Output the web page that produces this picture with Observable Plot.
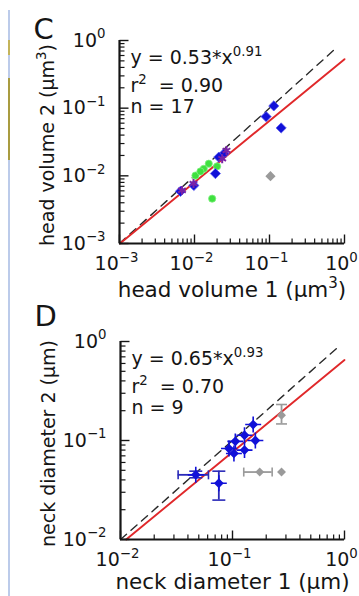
<!DOCTYPE html>
<html><head><meta charset="utf-8">
<script src="https://cdn.jsdelivr.net/npm/d3@7"></script>
<script src="https://cdn.jsdelivr.net/npm/@observablehq/plot@0.6"></script>
<style>
body{margin:0;background:#fff;}
#page{position:relative;width:359px;height:596px;overflow:hidden;background:#fff;}
#charts svg{display:block;background:transparent;}
.edge{position:absolute;left:8px;width:2px;z-index:2;}
</style></head><body>
<div id="page">
<div id="charts"></div>
<div class="edge" style="top:10px;height:586px;background:#bccbea"></div>
<div class="edge" style="top:40px;height:15px;background:#c4b45a"></div>
<div class="edge" style="top:78px;height:82px;background:#a99c40"></div>
</div>
<script>
// ---------- Panel C : head volume ----------
const cBlue   = [[0.114,0.108],[0.090,0.075],[0.143,0.051],[0.019,0.0108],[0.0246,0.0212],[0.0211,0.0189],[0.0098,0.0072],[0.0065,0.0059]];
const cPurple = [[0.0234,0.0179],[0.0097,0.0077],[0.0068,0.0061],[0.0267,0.0237]];
const cGreen  = [[0.0155,0.0151],[0.0133,0.0127],[0.0103,0.0101],[0.0172,0.0046],[0.020,0.0138],[0.012,0.0116]];
const cGray   = [[0.103,0.0099]];
const cFit    = [0.53, 0.91];
const cDash   = [0.001, 0.8];
const cDecades = [0.001, 0.01, 0.1, 1];
const cText   = ["y = 0.53*x^{0.91}", "r^{2}\u00a0 = 0.90", "n = 17"];
const cXTitle = "head volume 1 (\u03bcm^{3})";
const cYTitle = "head volume 2 (\u03bcm^{3})";

// ---------- Panel D : neck diameter ----------
const dBlue   = [[0.153,0.145],[0.128,0.113],[0.160,0.100],[0.106,0.098],[0.093,0.083],[0.103,0.074],[0.128,0.080]];
// [x, y, xlo, xhi, ylo, yhi]
const dBlueBars = [[0.047,0.045,0.0327,0.061,0.042,0.049],[0.0755,0.037,null,null,0.025,0.049]];
const dGrayBars = [[0.274,0.180,null,null,0.147,0.231],[0.175,0.048,0.126,0.226,null,null],[0.274,0.048,null,null,null,null]];
const dFit    = [0.65, 0.93];
const dDash   = [0.01, 0.87];
const dDecades = [0.01, 0.1, 1];
const dText   = ["y = 0.65*x^{0.93}", "r^{2}\u00a0 = 0.70", "n = 9"];
const dXTitle = "neck diameter 1 (\u03bcm)";
const dYTitle = "neck diameter 2 (\u03bcm)";

const minorMult = [2,3,4,5,6,7,8,9];

const BLUE = "#1010d8", BAR_BLUE = "#2a2ab8", PURPLE = "#7a22a6", GREEN = "#3fe03f", GRAY = "#9a9a9a", RED = "#e0282a", INK = "#151515";

const seg = (x, y) => ({draw(c){c.moveTo(0,0); c.lineTo(x,y);}});
const segC = (x, y) => ({draw(c){c.moveTo(-x,-y); c.lineTo(x,y);}});
const fmt = d => { const e = Math.round(Math.log10(d)); return "10^{" + (e < 0 ? "\u2212" + (-e) : e) + "}"; };

function supify(svg){
  const ns = "http://www.w3.org/2000/svg";
  svg.querySelectorAll("text").forEach(t => {
    const s = t.textContent;
    if (!s.includes("^{")) return;
    t.textContent = "";
    const parts = s.split(/\^\{([^}]*)\}/);
    let raised = false;
    parts.forEach((p, i) => {
      if (!p) return;
      const ts = document.createElementNS(ns, "tspan");
      if (i % 2 === 1) {
        ts.setAttribute("style", "font-size:70%");
        ts.setAttribute("dy", "-0.62em");
        raised = true;
      } else if (raised) {
        ts.setAttribute("dy", "0.434em");
        raised = false;
      }
      ts.textContent = p;
      t.appendChild(ts);
    });
  });
}

function panel(o){
  const [a, b] = o.fit;
  const xmin = o.decades[0], xmax = o.decades[o.decades.length-1];
  const x0 = Math.max(xmin, Math.pow(xmin / a, 1 / b));
  const fitLine = [x0, xmax].map(x => [x, a * Math.pow(x, b)]);
  const dashLine = o.dash.map(x => [x, x]);
  const minors = o.decades.slice(0, -1).flatMap(d => minorMult.map(m => m * d));
  const X = d => d[0], Y = d => d[1];
  const marks = [
    Plot.line(dashLine, {x: X, y: Y, stroke: "#2a2a2a", strokeWidth: 1.4, strokeDasharray: "8,6"}),
    Plot.line(fitLine, {x: X, y: Y, stroke: RED, strokeWidth: 1.9}),
    ...o.dataMarks,
    Plot.ruleX([xmin], {stroke: INK, strokeWidth: 2.2}),
    Plot.ruleY([xmin], {stroke: INK, strokeWidth: 2.2}),
    Plot.dot(o.decades, {x: d => d, frameAnchor: "bottom", symbol: seg(0,-9), fill: "none", stroke: INK, strokeWidth: 1.4}),
    Plot.dot(minors, {x: d => d, frameAnchor: "bottom", symbol: seg(0,-5), fill: "none", stroke: INK, strokeWidth: 1.2}),
    Plot.dot(o.decades, {y: d => d, frameAnchor: "left", symbol: seg(9,0), fill: "none", stroke: INK, strokeWidth: 1.4}),
    Plot.dot(minors, {y: d => d, frameAnchor: "left", symbol: seg(5,0), fill: "none", stroke: INK, strokeWidth: 1.2}),
    Plot.axisX(o.decades, {tickSize: 0, tickPadding: 13, tickFormat: fmt, fontSize: 19, dx: -3, label: null}),
    Plot.axisY(o.decades, {tickSize: 0, tickPadding: 14, tickFormat: fmt, fontSize: 19, label: null}),
    ...o.text.map((t, i) => Plot.text([t], {text: d => d, frameAnchor: "top-left", textAnchor: "start", lineAnchor: "middle", dx: 11, dy: [17.5, 45.5, 66.5][i], fontSize: 19, fill: INK})),
    Plot.text([o.letter], {text: d => d, frameAnchor: "top-left", textAnchor: "start", lineAnchor: "middle", dx: -86, dy: o.letterDy, fontSize: 29, fill: INK}),
    Plot.text([o.xTitle], {text: d => d, frameAnchor: "bottom", textAnchor: "middle", lineAnchor: "middle", dy: o.xTitleDy, fontSize: 21.5, fill: INK}),
    Plot.text([o.yTitle], {text: d => d, frameAnchor: "left", textAnchor: "middle", lineAnchor: "middle", rotate: -90, dx: -71.5, dy: 3, fontSize: 19, fill: INK})
  ];
  const svg = Plot.plot({
    width: 359, height: o.height,
    marginLeft: o.marginLeft, marginRight: 15, marginTop: o.marginTop, marginBottom: 57,
    x: {type: "log", domain: [xmin, xmax]},
    y: {type: "log", domain: [xmin, xmax]},
    style: {fontFamily: "DejaVu Sans", fontSize: "19px", color: INK, background: "transparent", overflow: "visible"},
    marks
  });
  supify(svg);
  return svg;
}

const X = d => d[0], Y = d => d[1];

const cMarks = [
  Plot.dot(cGreen, {x: X, y: Y, r: 3.6, fill: GREEN, stroke: "#7ff07f", strokeWidth: 0.8}),
  Plot.dot(cGray, {x: X, y: Y, r: 4.6, symbol: "diamond2", fill: GRAY}),
  Plot.dot(cBlue, {x: X, y: Y, r: 4.6, symbol: "diamond2", fill: BLUE, stroke: "#5a5af0", strokeWidth: 0.8}),
  Plot.dot(cPurple, {x: X, y: Y, r: 4.2, symbol: "asterisk", stroke: PURPLE, strokeWidth: 2, fill: "none"})
];

const bx = d => d[0], by = d => d[1];
const hasX = d => d[2] != null, hasY = d => d[4] != null;
function barMarks(data, color, capW){
  const xb = data.filter(hasX), yb = data.filter(hasY);
  return [
    Plot.ruleY(xb, {x1: d => d[2], x2: d => d[3], y: by, stroke: color, strokeWidth: 1.8}),
    Plot.dot(xb, {x: d => d[2], y: by, symbol: segC(0,4.5), fill: "none", stroke: color, strokeWidth: 1.6}),
    Plot.dot(xb, {x: d => d[3], y: by, symbol: segC(0,4.5), fill: "none", stroke: color, strokeWidth: 1.6}),
    Plot.ruleX(yb, {x: bx, y1: d => d[4], y2: d => d[5], stroke: color, strokeWidth: 1.8}),
    Plot.dot(yb, {x: bx, y: d => d[4], symbol: segC(capW,0), fill: "none", stroke: color, strokeWidth: 1.6}),
    Plot.dot(yb, {x: bx, y: d => d[5], symbol: segC(capW,0), fill: "none", stroke: color, strokeWidth: 1.6})
  ];
}

const dAllBlue = dBlue.concat(dBlueBars.map(d => [d[0], d[1]]));
const dMarks = [
  ...barMarks(dGrayBars, GRAY, 5.5),
  Plot.dot(dGrayBars, {x: bx, y: by, r: 4, symbol: "diamond2", fill: GRAY}),
  ...barMarks(dBlueBars, BAR_BLUE, 6.5),
  Plot.dot(dAllBlue, {x: X, y: Y, r: 5.2, symbol: "plus", stroke: BLUE, strokeWidth: 1.6, fill: "none"}),
  Plot.dot(dAllBlue, {x: X, y: Y, r: 4.4, symbol: "diamond2", fill: BLUE})
];

const charts = document.getElementById("charts");
charts.appendChild(panel({
  fit: cFit, dash: cDash, decades: cDecades, text: cText, letter: "C", letterDy: -11,
  xTitle: cXTitle, yTitle: cYTitle, xTitleDy: 46.5, height: 300, marginTop: 40, marginLeft: 119, dataMarks: cMarks
}));
charts.appendChild(panel({
  fit: dFit, dash: dDash, decades: dDecades, text: dText, letter: "D", letterDy: -25,
  xTitle: dXTitle, yTitle: dYTitle, xTitleDy: 42.5, height: 296, marginTop: 41, marginLeft: 120, dataMarks: dMarks
}));
</script>
</body></html>
